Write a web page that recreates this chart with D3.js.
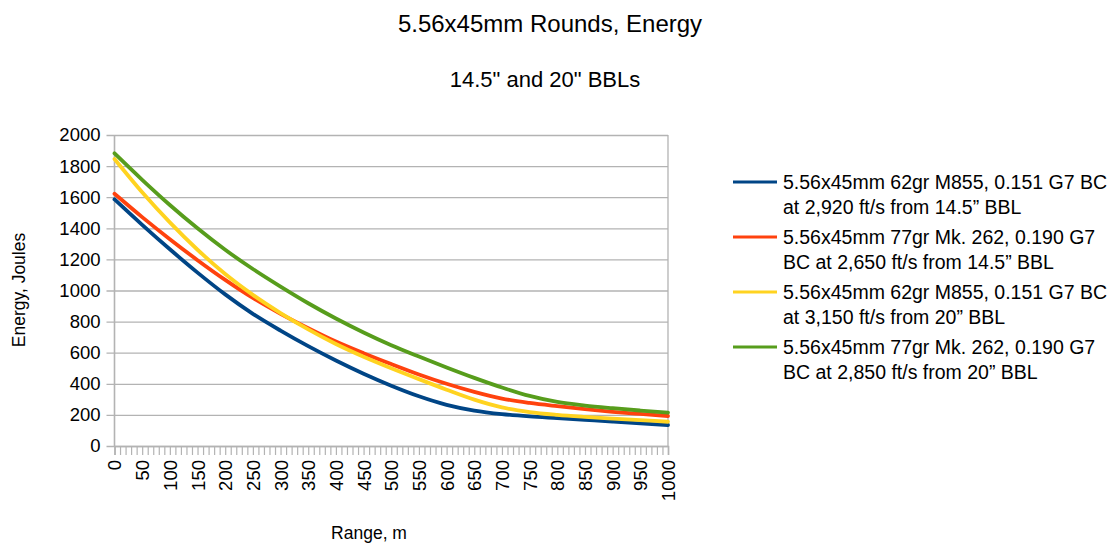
<!DOCTYPE html>
<html>
<head>
<meta charset="utf-8">
<script src="https://cdn.jsdelivr.net/npm/d3@7"></script>
<style>
  html, body { margin: 0; padding: 0; background: #fff; }
  svg { display: block; font-family: "Liberation Sans", Arial, sans-serif; }
</style>
</head>
<body>
<svg id="chart" width="1119" height="545"></svg>
<script>
// ---- data ----
const ranges = [0, 50, 100, 150, 200, 250, 300, 350, 400, 450, 500, 550, 600, 650, 700, 750, 800, 850, 900, 950, 1000];
const m855_145 = [1586, 1422, 1265, 1115, 975, 850, 742, 642, 550, 465, 388, 320, 265, 228, 205, 190, 179, 168, 157, 146, 135];
const mk262_145 = [1622, 1472, 1330, 1195, 1068, 952, 850, 758, 672, 597, 527, 460, 400, 348, 305, 277, 256, 237, 220, 206, 193];
const m855_20 = [1846, 1632, 1438, 1262, 1106, 972, 855, 750, 656, 574, 500, 430, 362, 298, 248, 218, 200, 187, 176, 166, 156];
const mk262_20 = [1882, 1712, 1550, 1400, 1262, 1138, 1025, 918, 820, 730, 648, 575, 505, 438, 376, 322, 283, 260, 243, 228, 214];
const seriesNames = [
  ["5.56x45mm 62gr M855, 0.151 G7 BC", "at 2,920 ft/s from 14.5\u201D BBL"],
  ["5.56x45mm 77gr Mk. 262, 0.190 G7", "BC at 2,650 ft/s from 14.5\u201D BBL"],
  ["5.56x45mm 62gr M855, 0.151 G7 BC", "at 3,150 ft/s from 20\u201D BBL"],
  ["5.56x45mm 77gr Mk. 262, 0.190 G7", "BC at 2,850 ft/s from 20\u201D BBL"]
];
const seriesColors = ["#004586", "#ff420e", "#ffd320", "#579d1c"];
const yTicks = [0, 200, 400, 600, 800, 1000, 1200, 1400, 1600, 1800, 2000];
const xLabels = [0, 50, 100, 150, 200, 250, 300, 350, 400, 450, 500, 550, 600, 650, 700, 750, 800, 850, 900, 950, 1000];
const xMinorStep = 10;
const titleText = "5.56x45mm Rounds, Energy";
const subtitleText = "14.5\" and 20\" BBLs";
const yTitle = "Energy, Joules";
const xTitle = "Range, m";

const seriesValues = [m855_145, mk262_145, m855_20, mk262_20];

// ---- layout ----
const svg = d3.select("#chart");
const plot = { left: 114.5, right: 668, top: 135, bottom: 446 };
const x = d3.scaleLinear().domain([0, 1000]).range([plot.left, plot.right]);
const y = d3.scaleLinear().domain([0, 2000]).range([plot.bottom, plot.top]);
const gridColor = "#b3b3b3";

// titles
svg.append("text").attr("x", 550).attr("y", 32).attr("text-anchor", "middle")
  .attr("font-size", 24).attr("fill", "#000").text(titleText);
svg.append("text").attr("x", 545).attr("y", 87).attr("text-anchor", "middle")
  .attr("font-size", 22).attr("fill", "#000").text(subtitleText);

// gridlines + y axis
const yAxis = d3.axisLeft(y).tickValues(yTicks).tickSize(plot.right - plot.left + 8).tickPadding(6)
  .tickFormat(d3.format("d"));
const gy = svg.append("g").attr("transform", `translate(${plot.right},0)`).call(yAxis);
gy.select(".domain").remove();
gy.selectAll(".tick line").attr("stroke", gridColor).attr("stroke-width", 1.3);
gy.selectAll(".tick text").attr("font-size", 18.5).attr("fill", "#000")
  .attr("font-family", "Liberation Sans, Arial, sans-serif");

// plot border (right side)
svg.append("line").attr("x1", plot.right).attr("x2", plot.right).attr("y1", plot.top).attr("y2", plot.bottom)
  .attr("stroke", gridColor).attr("stroke-width", 1.3);
// y axis line
svg.append("line").attr("x1", plot.left).attr("x2", plot.left).attr("y1", plot.top).attr("y2", plot.bottom)
  .attr("stroke", gridColor).attr("stroke-width", 1.6);

// x axis minor ticks
const minorTicks = d3.range(0, 1000 + 1e-6, xMinorStep);
const gxm = svg.append("g").attr("transform", `translate(0,${plot.bottom})`)
  .call(d3.axisBottom(x).tickValues(minorTicks).tickSize(9).tickFormat(""));
gxm.select(".domain").attr("stroke", gridColor).attr("stroke-width", 1.6);
gxm.selectAll(".tick line").attr("stroke", gridColor).attr("stroke-width", 1.2);

// x labels rotated
const gx = svg.append("g").attr("transform", `translate(0,${plot.bottom})`)
  .call(d3.axisBottom(x).tickValues(xLabels).tickSize(0).tickFormat(d3.format("d")));
gx.select(".domain").remove();
gx.selectAll(".tick text")
  .attr("font-size", 18.5).attr("fill", "#000")
  .attr("font-family", "Liberation Sans, Arial, sans-serif")
  .attr("transform", "rotate(-90)")
  .attr("text-anchor", "end")
  .attr("x", -14).attr("y", 0).attr("dy", "0.35em");

// axis titles
svg.append("text").attr("transform", "translate(25,290) rotate(-90)").attr("text-anchor", "middle")
  .attr("font-size", 17.5).attr("fill", "#000").text(yTitle);
svg.append("text").attr("x", 369).attr("y", 539).attr("text-anchor", "middle")
  .attr("font-size", 17.5).attr("fill", "#000").text(xTitle);

// lines
const line = d3.line().x(d => x(d[0])).y(d => y(d[1])).curve(d3.curveMonotoneX);
seriesValues.forEach((vals, i) => {
  svg.append("path")
    .datum(ranges.map((r, j) => [r, vals[j]]))
    .attr("fill", "none").attr("stroke", seriesColors[i]).attr("stroke-width", 3.8)
    .attr("stroke-linejoin", "round").attr("stroke-linecap", "round")
    .attr("d", line);
});

// legend
const legend = svg.append("g");
seriesNames.forEach((lines, i) => {
  const cy = 182 + i * 55;
  legend.append("line").attr("x1", 733).attr("x2", 777).attr("y1", cy).attr("y2", cy)
    .attr("stroke", seriesColors[i]).attr("stroke-width", 3);
  lines.forEach((t, k) => {
    legend.append("text").attr("x", 783).attr("y", cy + k * 25).attr("dy", "0.35em")
      .attr("font-size", 19.5).attr("fill", "#000").text(t);
  });
});
</script>
</body>
</html>
